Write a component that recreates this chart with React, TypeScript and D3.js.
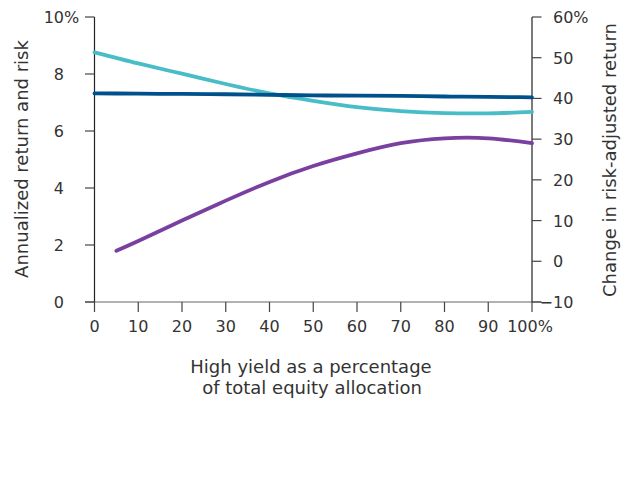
import React from "react";
import * as d3 from "d3";

const xTicks = [0, 10, 20, 30, 40, 50, 60, 70, 80, 90, 100];
const leftTicks = [0, 2, 4, 6, 8, 10];
const rightTicks = [-10, 0, 10, 20, 30, 40, 50, 60];

const allocation = [0, 10, 20, 30, 40, 50, 60, 70, 80, 90, 100];
const annualizedReturn = [7.32, 7.31, 7.3, 7.29, 7.27, 7.25, 7.24, 7.23, 7.21, 7.2, 7.18];
const annualizedRisk = [8.76, 8.37, 8.01, 7.65, 7.32, 7.06, 6.84, 6.7, 6.63, 6.62, 6.67];
const riskAdjAllocation = [5, 10, 20, 30, 40, 50, 60, 70, 80, 90, 100];
const riskAdjChange = [2.6, 5.0, 10.0, 14.9, 19.5, 23.4, 26.5, 29.0, 30.2, 30.2, 29.0];

const FONT = "'DejaVu Sans', sans-serif";
const TXT = "#333";

export default function App() {
  const W = 632, H = 495;
  const x = d3.scaleLinear().domain([0, 100]).range([94.5, 532]);
  const yL = d3.scaleLinear().domain([0, 10]).range([302, 17]);
  const yR = d3.scaleLinear().domain([-10, 60]).range([302, 17]);

  const lineL = d3.line<[number, number]>().x(d => x(d[0])).y(d => yL(d[1])).curve(d3.curveNatural);
  const lineR = d3.line<[number, number]>().x(d => x(d[0])).y(d => yR(d[1])).curve(d3.curveNatural);

  const ret = allocation.map((a, i) => [a, annualizedReturn[i]] as [number, number]);
  const risk = allocation.map((a, i) => [a, annualizedRisk[i]] as [number, number]);
  const adj = riskAdjAllocation.map((a, i) => [a, riskAdjChange[i]] as [number, number]);

  return (
    <svg width={W} height={H} style={{ position: "absolute", left: 0, top: 0 }} fontFamily={FONT}>
      <rect width={W} height={H} fill="#fff" />
      {/* x axis */}
      <line x1={85} x2={541.5} y1={302} y2={302} stroke="#666" strokeWidth={1.2} />
      {xTicks.map(t => (
        <g key={"xt" + t}>
          <line x1={x(t)} x2={x(t)} y1={302} y2={312} stroke="#444" strokeWidth={1.2} />
          <text x={t === 100 ? x(t) - 2 : x(t)} y={332} textAnchor="middle" fontSize={16} fill={TXT}>
            {t === 100 ? "100%" : t}
          </text>
        </g>
      ))}
      {/* left axis */}
      <line x1={x(0)} x2={x(0)} y1={17} y2={302} stroke="#222" strokeWidth={1.2} />
      {leftTicks.map(t => (
        <g key={"lt" + t}>
          <line x1={85} x2={x(0)} y1={yL(t)} y2={yL(t)} stroke="#444" strokeWidth={1.2} />
          <text x={64} y={yL(t) + 6} textAnchor="end" fontSize={16} fill={TXT}>{t}</text>
          {t === 10 && <text x={64} y={yL(t) + 6} textAnchor="start" fontSize={16} fill={TXT}>%</text>}
        </g>
      ))}
      {/* right axis */}
      <line x1={x(100)} x2={x(100)} y1={17} y2={302} stroke="#222" strokeWidth={1.2} />
      {rightTicks.map(t => (
        <g key={"rt" + t}>
          <line x1={x(100)} x2={541.5} y1={yR(t)} y2={yR(t)} stroke="#444" strokeWidth={1.2} />
          <text x={553} y={yR(t) + 6} textAnchor="start" fontSize={16} fill={TXT}>
            {Math.abs(t) + (t === 60 ? "%" : "")}
          </text>
          {t < 0 && <text x={553} y={yR(t) + 6} textAnchor="end" fontSize={16} fill={TXT}>−</text>}
        </g>
      ))}
      {/* axis titles */}
      <text transform={`translate(28,159) rotate(-90)`} textAnchor="middle" fontSize={18} fill={TXT}>
        Annualized return and risk
      </text>
      <text transform={`translate(616,160) rotate(-90)`} textAnchor="middle" fontSize={18} fill={TXT}>
        Change in risk-adjusted return
      </text>
      <text x={311} y={373} textAnchor="middle" fontSize={18} fill={TXT}>High yield as a percentage</text>
      <text x={312} y={394} textAnchor="middle" fontSize={18} fill={TXT}>of total equity allocation</text>
      {/* lines */}
      <path d={lineL(risk) || ""} fill="none" stroke="#48bdc7" strokeWidth={3.8} strokeLinecap="round" />
      <path d={lineL(ret) || ""} fill="none" stroke="#00508c" strokeWidth={3.8} strokeLinecap="round" />
      <path d={lineR(adj) || ""} fill="none" stroke="#7a40a0" strokeWidth={3.8} strokeLinecap="round" />
    </svg>
  );
}
